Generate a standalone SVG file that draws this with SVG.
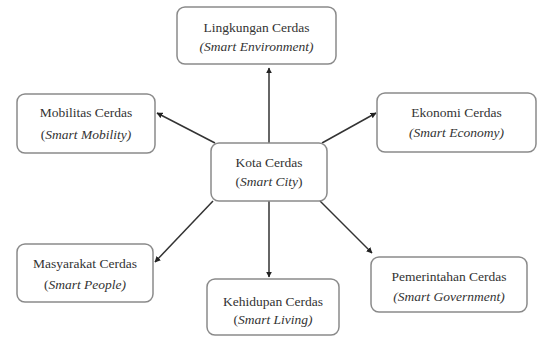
<svg xmlns="http://www.w3.org/2000/svg" width="537" height="337" viewBox="0 0 537 337">
<style>
.box{fill:#fff;stroke:#8a8a8a;stroke-width:1.5}
.t{font-family:'Liberation Serif','DejaVu Serif','Times New Roman',Times,serif;font-size:13.5px;fill:#333;text-anchor:middle}
.i{font-style:italic}
.c{stroke:#333;stroke-width:1.5;fill:none;marker-end:url(#ah)}
</style>
<defs>
<marker id="ah" viewBox="0 0 10 10" refX="9" refY="5" markerWidth="6" markerHeight="6" orient="auto" markerUnits="userSpaceOnUse">
<path d="M0,0 L10,5 L0,10 z" fill="#222"/>
</marker>
</defs>
<rect width="537" height="337" fill="#fff"/>
<g id="connectors">
<line class="c" x1="269" y1="143" x2="269" y2="68"/>
<line class="c" x1="215" y1="143" x2="157" y2="113"/>
<line class="c" x1="322" y1="143" x2="376" y2="113"/>
<line class="c" x1="213" y1="201" x2="155" y2="262"/>
<line class="c" x1="269" y1="201" x2="269" y2="277"/>
<line class="c" x1="320" y1="201" x2="372" y2="253"/>
</g>
<g id="kota">
<rect class="box" x="211" y="143" width="116" height="58" rx="8"/>
<text class="t" x="269" y="167" font-family="Liberation Serif, serif">Kota Cerdas</text>
<text class="t" x="269" y="186" font-family="Liberation Serif, serif">(<tspan class="i">Smart City</tspan>)</text>
</g>
<g id="lingkungan">
<rect class="box" x="177" y="7" width="159" height="57" rx="8"/>
<text class="t" x="256.5" y="32" font-family="Liberation Serif, serif">Lingkungan Cerdas</text>
<text class="t i" x="256.5" y="51" font-family="Liberation Serif, serif">(Smart Environment)</text>
</g>
<g id="mobilitas">
<rect class="box" x="17" y="94" width="138" height="59" rx="8"/>
<text class="t" x="86" y="117" font-family="Liberation Serif, serif">Mobilitas Cerdas</text>
<text class="t" x="86" y="139" font-family="Liberation Serif, serif">(<tspan class="i">Smart Mobility)</tspan></text>
</g>
<g id="ekonomi">
<rect class="box" x="377" y="93" width="159" height="59" rx="8"/>
<text class="t" x="456.5" y="117" font-family="Liberation Serif, serif">Ekonomi Cerdas</text>
<text class="t" x="456.5" y="137" font-family="Liberation Serif, serif"><tspan class="i">(Smart Economy)</tspan></text>
</g>
<g id="masyarakat">
<rect class="box" x="17" y="244" width="136" height="58" rx="8"/>
<text class="t" x="85" y="268" font-family="Liberation Serif, serif">Masyarakat Cerdas</text>
<text class="t" x="85" y="289" font-family="Liberation Serif, serif">(<tspan class="i">Smart People)</tspan></text>
</g>
<g id="kehidupan">
<rect class="box" x="207" y="279" width="132" height="56" rx="8"/>
<text class="t" x="273" y="306" font-family="Liberation Serif, serif">Kehidupan Cerdas</text>
<text class="t" x="273" y="324" font-family="Liberation Serif, serif">(<tspan class="i">Smart Living)</tspan></text>
</g>
<g id="pemerintahan">
<rect class="box" x="371" y="257" width="156" height="55" rx="8"/>
<text class="t" x="449" y="281" font-family="Liberation Serif, serif">Pemerintahan Cerdas</text>
<text class="t i" x="449" y="301" font-family="Liberation Serif, serif">(Smart Government)</text>
</g>
</svg>
